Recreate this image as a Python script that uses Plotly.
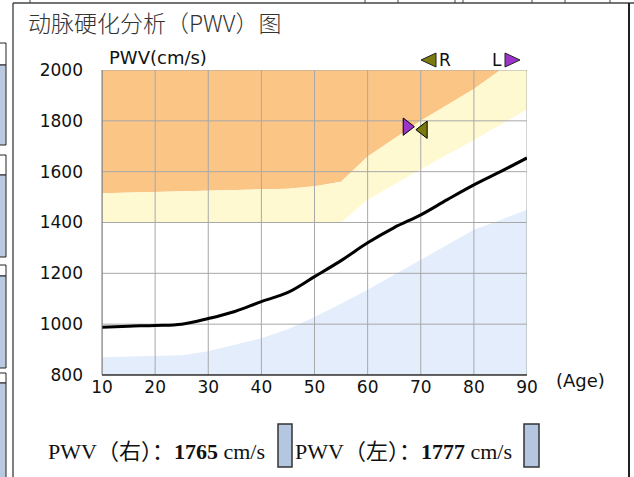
import plotly.graph_objects as go

# ---------------- data ----------------
ages = [10, 20, 25, 30, 40, 45, 50, 55, 60, 70, 80, 85, 90]
orange_low = [1515, 1520, 1522, 1525, 1530, 1533, 1543, 1560, 1660, 1800, 1925, 2000, 2060]
yellow_low = [1400, 1400, 1400, 1400, 1400, 1400, 1400, 1400, 1490, 1610, 1725, 1785, 1845]
blue_high = [870, 875, 878, 893, 945, 980, 1028, 1080, 1135, 1253, 1371, 1410, 1450]
curve_ages = [10, 15, 20, 25, 30, 35, 40, 45, 50, 55, 60, 65, 70, 75, 80, 85, 90]
curve_pwv = [988, 992, 995, 1000, 1022, 1050, 1089, 1125, 1187, 1250, 1320, 1380, 1430, 1490, 1548, 1600, 1654]
x_ticks = [10, 20, 30, 40, 50, 60, 70, 80, 90]
y_ticks = [800, 1000, 1200, 1400, 1600, 1800, 2000]
patient_age = 69
pwv_right = 1765
pwv_left = 1777

ORANGE = "#FBC586"
YELLOW = "#FFF9D2"
BLUE = "#E3EDFB"
PURPLE = "#9B34C8"
OLIVE = "#7A7A10"
GRID = "#A8A8A8"

fig = go.Figure()
top = [y_ticks[-1]] * len(ages)
bottom = [y_ticks[0]] * len(ages)
fig.add_trace(go.Scatter(x=ages, y=top, mode="lines", line=dict(width=0), hoverinfo="skip"))
fig.add_trace(go.Scatter(x=ages, y=orange_low, mode="lines", line=dict(width=0), fill="tonexty",
                         fillcolor=ORANGE, hoverinfo="skip"))
fig.add_trace(go.Scatter(x=ages, y=yellow_low, mode="lines", line=dict(width=0), fill="tonexty",
                         fillcolor=YELLOW, hoverinfo="skip"))
fig.add_trace(go.Scatter(x=ages, y=blue_high, mode="lines", line=dict(width=0), hoverinfo="skip"))
fig.add_trace(go.Scatter(x=ages, y=bottom, mode="lines", line=dict(width=0), fill="tonexty",
                         fillcolor=BLUE, hoverinfo="skip"))

# grid lines drawn above fills
gx, gy = [], []
for t in x_ticks:
    gx += [t, t, None]
    gy += [y_ticks[0], y_ticks[-1], None]
for t in y_ticks:
    gx += [x_ticks[0], x_ticks[-1], None]
    gy += [t, t, None]
fig.add_trace(go.Scatter(x=gx, y=gy, mode="lines", line=dict(color=GRID, width=1), hoverinfo="skip"))

fig.add_trace(go.Scatter(x=curve_ages, y=curve_pwv, mode="lines", line=dict(color="black", width=3),
                         line_shape="spline", hoverinfo="skip"))

# patient markers
fig.add_trace(go.Scatter(x=[patient_age - 1.6], y=[pwv_left], mode="markers",
                         marker=dict(symbol="triangle-right", size=15, color=PURPLE,
                                     line=dict(color="black", width=1)), cliponaxis=False))
fig.add_trace(go.Scatter(x=[patient_age + 1.5], y=[pwv_right], mode="markers",
                         marker=dict(symbol="triangle-left", size=15, color=OLIVE,
                                     line=dict(color="black", width=1)), cliponaxis=False))

# ---------------- layout helpers ----------------
L, R, T, B = 102, 527, 70, 375
def px(X):
    return (X - L) / (R - L)
def py(Y):
    return (B - Y) / (B - T)

shapes = []
annotations = []

# plot frame
shapes.append(dict(type="line", xref="paper", yref="paper", x0=0, x1=1, y0=0, y1=0,
                   line=dict(color="#333", width=1.5)))
shapes.append(dict(type="line", xref="paper", yref="paper", x0=0, x1=0, y0=0, y1=1,
                   line=dict(color="#777", width=1)))

# page chrome
shapes.append(dict(type="line", xref="paper", yref="paper", x0=px(13), x1=px(13), y0=py(3), y1=py(480),
                   line=dict(color="#555", width=1.5)))
shapes.append(dict(type="line", xref="paper", yref="paper", x0=px(13), x1=px(640), y0=py(3), y1=py(3),
                   line=dict(color="#444", width=1.5)))
shapes.append(dict(type="line", xref="paper", yref="paper", x0=px(629), x1=px(629), y0=py(3), y1=py(480),
                   line=dict(color="#222", width=2)))
for tx in [30, 365, 398, 455, 463, 532, 565, 610]:
    shapes.append(dict(type="line", xref="paper", yref="paper", x0=px(tx), x1=px(tx), y0=py(-2), y1=py(3),
                       line=dict(color="#444", width=1)))
for (a, h, b) in [(43, 65, 145), (155, 175, 257), (265, 276, 368), (373, 383, 480)]:
    shapes.append(dict(type="rect", xref="paper", yref="paper", x0=px(-5), x1=px(6), y0=py(h), y1=py(a),
                       fillcolor="white", line=dict(color="#222", width=1)))
    shapes.append(dict(type="rect", xref="paper", yref="paper", x0=px(-5), x1=px(6), y0=py(b), y1=py(h),
                       fillcolor="#B9C9E2", line=dict(color="#222", width=1)))

# bottom value boxes
for (x0, x1) in [(278, 292), (524, 539)]:
    shapes.append(dict(type="rect", xref="paper", yref="paper", x0=px(x0), x1=px(x1), y0=py(467), y1=py(424),
                       fillcolor="#B5C7E0", line=dict(color="#333", width=1.5)))

# legend triangles
shapes.append(dict(type="path", xref="paper", yref="paper",
                   path=f"M {px(421)} {py(60)} L {px(436)} {py(53)} L {px(436)} {py(67)} Z",
                   fillcolor=OLIVE, line=dict(color="#222", width=1)))
shapes.append(dict(type="path", xref="paper", yref="paper",
                   path=f"M {px(520)} {py(60)} L {px(505)} {py(53)} L {px(505)} {py(67)} Z",
                   fillcolor=PURPLE, line=dict(color="#222", width=1)))

SANS = "DejaVu Sans, Noto Sans CJK SC"
annotations.append(dict(xref="paper", yref="paper", x=px(437), y=py(60), text="R", showarrow=False,
                        xanchor="left", yanchor="middle", font=dict(family=SANS, size=17, color="#111")))
annotations.append(dict(xref="paper", yref="paper", x=px(504), y=py(60), text="L", showarrow=False,
                        xanchor="right", yanchor="middle", font=dict(family=SANS, size=17, color="#111")))

annotations.append(dict(xref="paper", yref="paper", x=px(26), y=py(22), text="动脉硬化分析（PWV）图",
                        showarrow=False, xanchor="left", yanchor="middle",
                        font=dict(family="Noto Sans CJK SC", size=23, color="#333", weight=300)))
annotations.append(dict(xref="paper", yref="paper", x=px(107), y=py(57), text="PWV(cm/s)",
                        showarrow=False, xanchor="left", yanchor="middle",
                        font=dict(family=SANS, size=18, color="#111")))
annotations.append(dict(xref="paper", yref="paper", x=px(554), y=py(380), text="(Age)",
                        showarrow=False, xanchor="left", yanchor="middle",
                        font=dict(family=SANS, size=18, color="#111")))

SERIF = "Liberation Serif, Noto Sans CJK SC"
annotations.append(dict(xref="paper", yref="paper", x=px(46), y=py(451),
                        text=f"PWV（右）：<b>{pwv_right}</b> cm/s", showarrow=False,
                        xanchor="left", yanchor="middle", font=dict(family=SERIF, size=22, color="#111")))
annotations.append(dict(xref="paper", yref="paper", x=px(293), y=py(451),
                        text=f"PWV（左）：<b>{pwv_left}</b> cm/s", showarrow=False,
                        xanchor="left", yanchor="middle", font=dict(family=SERIF, size=22, color="#111")))

fig.update_layout(
    width=634, height=477,
    margin=dict(l=L, r=634 - R, t=T, b=477 - B),
    paper_bgcolor="white", plot_bgcolor="white",
    showlegend=False,
    shapes=shapes, annotations=annotations,
    xaxis=dict(range=[x_ticks[0], x_ticks[-1]], tickvals=x_ticks, showgrid=False, zeroline=False,
               showline=False, ticks="", tickfont=dict(family=SANS, size=17, color="#111")),
    yaxis=dict(range=[y_ticks[0], y_ticks[-1]], tickvals=y_ticks, showgrid=False, zeroline=False,
               showline=False, ticks="", ticklabelstandoff=18,
               tickfont=dict(family=SANS, size=17, color="#111")),
)

fig.write_html("out.html", config={"displayModeBar": False},
               post_script="document.body.style.margin='0';")
